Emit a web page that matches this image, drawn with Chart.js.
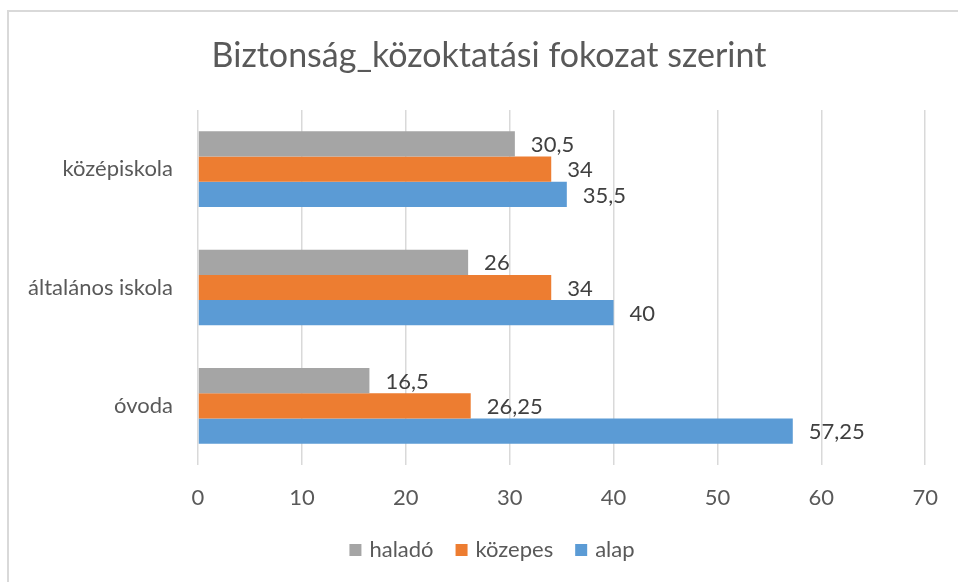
<!DOCTYPE html>
<html>
<head>
<meta charset="utf-8">
<script src="https://cdn.jsdelivr.net/npm/chart.js@4.4.1/dist/chart.umd.min.js"></script>
<style>
  html, body { margin: 0; padding: 0; background: #fff; }
  #wrap { width: 958px; height: 582px; }
</style>
</head>
<body>
<div id="wrap"><canvas id="grafico" width="958" height="582"></canvas></div>
<script>
// Adatok
const kategoriak = ['középiskola', 'általános iskola', 'óvoda'];
const halado = [30.5, 26, 16.5];
const kozepes = [34, 34, 26.25];
const alap = [35.5, 40, 57.25];
const sorozatNevek = ['haladó', 'közepes', 'alap'];
const szinek = ['#a5a5a5', '#ed7d31', '#5b9bd5'];
const xMin = 0, xMax = 70, xLepes = 10;
const cim = 'Biztonság_közoktatási fokozat szerint';

const betu = 'Lato, "Open Sans", sans-serif';

// Keret, cím, jelmagyarázat, értékcímkék
const rajzolo = {
  id: 'rajzolo',
  beforeDraw(chart) {
    const c = chart.ctx;
    c.save();
    c.fillStyle = '#fff';
    c.fillRect(0, 0, chart.width, chart.height);
    c.strokeStyle = '#d9d9d9';
    c.lineWidth = 2;
    c.beginPath();
    c.moveTo(8, chart.height);
    c.lineTo(8, 11);
    c.lineTo(chart.width, 11);
    c.stroke();
    c.restore();
  },
  afterDatasetsDraw(chart) {
    const c = chart.ctx;
    c.save();
    c.font = '22px ' + betu;
    c.fillStyle = '#404040';
    c.textBaseline = 'middle';
    c.textAlign = 'left';
    chart.data.datasets.forEach((ds, i) => {
      const meta = chart.getDatasetMeta(i);
      meta.data.forEach((el, j) => {
        const txt = String(ds.data[j]).replace('.', ',');
        c.fillText(txt, el.x + 16, el.y + 1);
      });
    });
    c.restore();
  },
  afterDraw(chart) {
    const c = chart.ctx;
    c.save();
    // cím
    c.font = '34px ' + betu;
    c.fillStyle = '#595959';
    c.textAlign = 'center';
    c.textBaseline = 'middle';
    c.fillText(cim, 489, 56);
    // jelmagyarázat
    c.font = '22px ' + betu;
    c.textAlign = 'left';
    const doboz = 12, res = 8, koz = 22;
    let teljes = 0;
    const szelessegek = chart.data.datasets.map(ds => c.measureText(ds.label).width);
    szelessegek.forEach(w => { teljes += doboz + res + w; });
    teljes += koz * (szelessegek.length - 1);
    let x = 492 - teljes / 2;
    const y = 550;
    chart.data.datasets.forEach((ds, i) => {
      c.fillStyle = ds.backgroundColor;
      c.fillRect(x, y - doboz / 2, doboz, doboz);
      x += doboz + res;
      c.fillStyle = '#595959';
      c.fillText(ds.label, x, y);
      x += szelessegek[i] + koz;
    });
    c.restore();
  }
};

const ctx = document.getElementById('grafico').getContext('2d');
const grafico = new Chart(ctx, {
  type: 'bar',
  data: {
    labels: kategoriak,
    datasets: [halado, kozepes, alap].map((adat, i) => ({
      label: sorozatNevek[i],
      data: adat,
      backgroundColor: szinek[i],
      borderWidth: 0,
      categoryPercentage: 0.64,
      barPercentage: 1
    }))
  },
  options: {
    indexAxis: 'y',
    responsive: false,
    animation: false,
    devicePixelRatio: 1,
    layout: { padding: { top: 110, right: 29, bottom: 67, left: 0 } },
    plugins: {
      legend: { display: false },
      title: { display: false },
      tooltip: { enabled: false }
    },
    scales: {
      x: {
        min: xMin,
        max: xMax,
        ticks: { stepSize: xLepes, color: '#595959', font: { family: betu, size: 22 }, padding: 20 },
        grid: { color: '#d9d9d9', lineWidth: 1.5, drawTicks: false },
        border: { display: false },
        afterFit(scale) { scale.height = 50; }
      },
      y: {
        ticks: { color: '#595959', font: { family: betu, size: 22 }, padding: 25 },
        grid: { display: false, drawTicks: false },
        border: { display: false },
        afterFit(scale) { scale.width = 198; }
      }
    }
  },
  plugins: [rajzolo]
});
</script>
</body>
</html>
